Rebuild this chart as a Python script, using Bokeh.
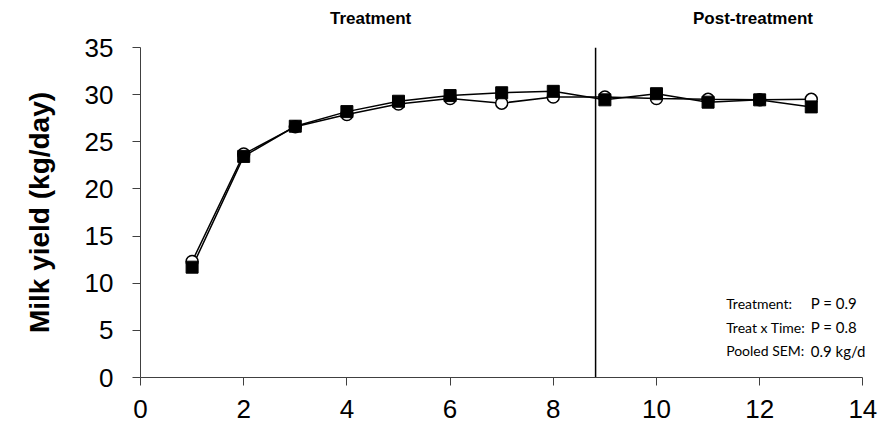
from bokeh.plotting import figure
from bokeh.models import Range1d, FixedTicker, LinearAxis
from bokeh.core.properties import value
from bokeh.embed import file_html
from bokeh.resources import INLINE

weeks = [1, 2, 3, 4, 5, 6, 7, 8, 9, 10, 11, 12, 13]
open_series = [12.3, 23.7, 26.6, 27.9, 29.0, 29.6, 29.1, 29.75, 29.75, 29.6, 29.5, 29.45, 29.5]
filled_series = [11.7, 23.45, 26.65, 28.2, 29.3, 29.9, 30.2, 30.35, 29.45, 30.1, 29.2, 29.45, 28.7]
x_ticks = [0, 2, 4, 6, 8, 10, 12, 14]
y_ticks = [0, 5, 10, 15, 20, 25, 30, 35]
divider_x = 8.82
period_labels = ["Treatment", "Post-treatment"]
period_x = [4.46, 11.87]
stat_names = ["Treatment:", "Treat x Time:", "Pooled SEM:"]
stat_values = ["P = 0.9", "P = 0.8", "0.9 kg/d"]
stat_y = [7.87, 5.35, 2.83]
stat_name_x = [11.35, 11.35, 11.35]
stat_value_x = [12.99, 12.99, 12.99]

x_view_max = 14.4

p = figure(width=890, height=430, output_backend="svg", toolbar_location=None,
           x_range=Range1d(0, x_view_max), y_range=Range1d(0, 35),
           min_border_left=140, min_border_right=7, min_border_top=47, min_border_bottom=53)
p.outline_line_color = None
p.xgrid.grid_line_color = None
p.ygrid.grid_line_color = None

for ax in (p.xaxis[0], p.yaxis[0]):
    ax.axis_line_color = "#404040"
    ax.major_tick_line_color = "#404040"
    ax.major_tick_in = 0
    ax.major_tick_out = 8
    ax.minor_tick_line_color = None
    ax.major_label_text_font = "Liberation Sans"
    ax.major_label_text_font_size = "26px"
    ax.major_label_text_color = "black"

p.xaxis.bounds = (x_ticks[0], x_ticks[-1])
p.xaxis.ticker = FixedTicker(ticks=x_ticks)
p.yaxis.ticker = FixedTicker(ticks=y_ticks)
p.xaxis.major_label_standoff = 14
p.yaxis.major_label_standoff = 19
p.yaxis.axis_label = "Milk yield (kg/day)"
p.yaxis.axis_label_text_font = "Liberation Sans"
p.yaxis.axis_label_text_font_style = "bold"
p.yaxis.axis_label_text_font_size = "28px"
p.yaxis.axis_label_text_color = "black"
p.yaxis.axis_label_standoff = 27

top_axis = LinearAxis(ticker=FixedTicker(ticks=period_x),
                      major_label_overrides=dict(zip(period_x, period_labels)))
top_axis.axis_line_color = None
top_axis.major_tick_line_color = None
top_axis.minor_tick_line_color = None
top_axis.major_tick_in = 0
top_axis.major_tick_out = 0
top_axis.major_label_standoff = 20
top_axis.major_label_text_font = "Liberation Sans"
top_axis.major_label_text_font_style = "bold"
top_axis.major_label_text_font_size = "17px"
top_axis.major_label_text_color = "black"
p.add_layout(top_axis, "above")

p.segment(x0=[divider_x], y0=[y_ticks[0]], x1=[divider_x], y1=[y_ticks[-1]], line_color="black", line_width=1.5)

p.line(weeks, open_series, line_color="black", line_width=1.5)
p.line(weeks, filled_series, line_color="black", line_width=1.5)
p.scatter(weeks, open_series, marker="circle", size=12, fill_color="white", line_color="black", line_width=1.5)
p.scatter(weeks, filled_series, marker="square", size=12, fill_color="black", line_color="black")

p.text(x=stat_name_x, y=stat_y, text=stat_names, text_baseline="middle",
       text_font=value("Lato"), text_font_size="14px", text_color="black")
p.text(x=stat_value_x, y=stat_y, text=stat_values, text_baseline="middle",
       text_font=value("Lato"), text_font_size="15px", text_color="black")

open("out.html", "w").write(file_html(p, INLINE))
